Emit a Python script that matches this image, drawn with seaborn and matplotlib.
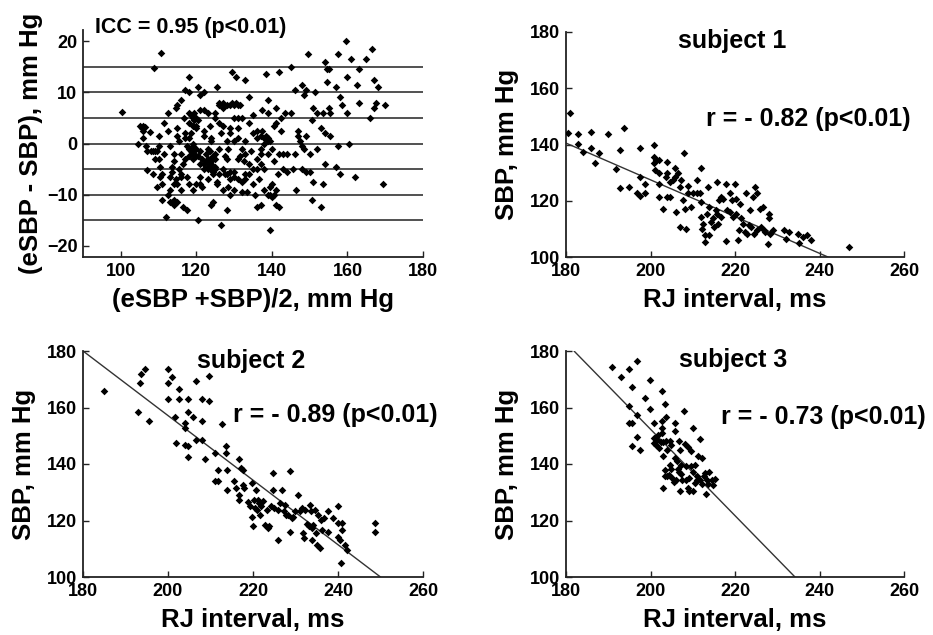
import numpy as np
import pandas as pd
import matplotlib
matplotlib.use("Agg")
import matplotlib.pyplot as plt
import seaborn as sns

# ---------------- data ----------------
# Bland-Altman panel: mean (x) and difference (y)
ba_mean = [100.3, 104.5, 105, 105.5, 106, 105.8, 106.5,
           106.6, 107, 107.8, 108.5, 109, 109.5, 108.5, 109.5, 110, 110, 110.5, 110.2, 108.7, 110.6, 110.8, 111, 111.5, 111.5,
           112, 112.5, 112.5, 113, 113, 113.5, 114, 113.5, 113, 113.5, 114, 114.5, 114.5, 115, 115, 115.5, 115, 115.5, 116, 116, 116.5, 116, 116.5, 116.8, 117, 117, 117, 117.5, 117.5,
           118, 118, 118, 118, 118, 118, 118.5, 119, 119, 119, 119, 119.5, 119.5, 120, 120, 120, 120.5, 120.5, 121, 121, 121, 121.5, 121.5, 122, 122, 122, 122, 122.5,
           123, 123, 123, 123, 123.5, 123.5, 124, 124, 124, 124, 124.5, 124.5, 124.5, 125, 125, 125, 125, 125.5, 125.5, 126, 126, 126, 126.5, 126.5, 127, 127, 127, 127,
           128, 128, 128, 128, 128.5, 128.5, 129, 129, 129, 129.5, 129.5, 130, 130, 130, 130, 130.5, 130.5, 131, 131, 131, 131.5, 131.5, 132, 132, 132, 132.5,
           133, 133, 133, 133.5, 134, 134, 134, 134.5, 135, 135, 135, 135.5, 136, 136, 136, 136.5, 137, 137, 137, 137.5, 137.5, 138, 138, 138,
           138.5, 139, 139, 139, 139, 139.5, 139.5, 140, 140, 140, 140.5, 140.5, 141, 141, 141, 141.5, 142, 142, 142, 142.5, 142.5,
           143, 143, 143.5, 144, 144, 145, 145, 145.5, 146, 146, 146.5, 147, 147, 147.5, 148, 148,
           148, 148.5, 148.5, 149, 149, 149, 149.5, 150, 150, 150.5, 150.5, 151, 151, 151.5, 152, 152,
           153, 153, 153.5, 153.5, 154, 154, 154, 154.5, 154.5, 155, 155, 155.5, 155.5, 157, 157, 157.5, 157.5, 158, 158, 158.5,
           159.5, 160, 160, 160.5, 161, 162, 162.5, 163, 163, 165, 166, 166.5, 167, 167, 167.5, 168, 170, 169.5,
           114, 115, 116, 117, 118.5, 119, 120, 120.5, 121, 122, 123, 123.5, 124, 125, 126, 127.5, 129, 131, 133, 135, 137, 139,
           118.5, 119.5, 120, 120.5, 119, 119.5, 120, 118, 121, 117.5,
           123, 123.5, 124, 124.5, 125, 122, 122.5,
           113, 114, 115, 114, 112.5, 116,
           131, 133, 134, 136, 138, 138.5, 139.5, 137, 136, 132, 130, 128,
           139, 140.5, 141, 139.5,
           108, 109, 110.5, 111, 107, 106,
           126, 127, 129, 130, 131, 127.5, 129, 125.5, 121, 119, 118]
ba_diff = [6.2, 0, 3.5, 3, 3.5, 2.5, 3.2,
           -0.5, -5.2, 2.3, -1.5, -1.5, -1.5, -6, -8.5, -3, -0.5, -4.5, 1.5, 14.7, 17.7, -11, -6, 4, -2,
           -14.3, 6, 2.5, -9, -11.5, -11.5, -12, -5.5, -0.5, -4.5, -2, -7, 7, 7.5, 3, -5, -8, 0.5, 8.5, -2, -12.5, -9, -4, 5, 10.5, 1, -3, -6.5, -13,
           13, 10, 6, 4, 1, -1, -1.5, -2, 0, 3.5, 5, 4.5, -1, 5, -1, -8, -15, 11, -4, 6.5, 9.5, -3, -8.5, 6.5, 10, 1.5, -5, -3.5,
           6, -1, -3, -4.5, -4, 3.5, -12, -3.5, -5, 1, -11.5, -6, -2.5, -3, -5, 5, 6, -8, 11, -6, -1, 4, -16, 2, -5, -9, 3.5, 7,
           -13, 7.5, -6, 0.5, -8.5, -1, -10, -5.5, 2, 14, 8, -5.5, 0.5, 5, -9, 13, 8, -3, -7, 3, -2.5, 7.5, -9.5, 5, -1, -3.5,
           12.5, -2, -7, -9.5, 9, 4, -4, -1.5, -5, -8, 5.5, -10, -12.5, 1, -3, -7, -12, 1.5, -1, 2.5, 6.5, -9, 1, -5,
           13.5, 8.5, 6, 1, -2, -10, -17, -10.5, -8, -1, 3.5, -3.5, 7, 4, -12, -6, 14, -12.5, -2, 5, 2.5,
           -2, -5, 6, -5.5, -2, 15, 6, -5, 10.5, -2, -9, 1.5, 2.5, 0.5, -5, -0.5,
           11.5, 9.5, -1, 10.5, 1.5, -5.5, 17.5, -5.5, -2, -11, 4.5, -7.5, 7, 10, 6, -1,
           -12.5, 3, 6, -8, 16, 2, -4, 14.5, 12, 7, 14.5, 1.5, 6, 11, -4.5, 17.5, -0.5, -6, 9, 7.5,
           20, 13, 6, 0, 16.5, -6.5, 11.5, 14.5, 8, 16.5, 5, 18.5, 12.5, 7, 8, 11, 7.5, -8,
           -3.5, 1.5, -6.5, 2, 2, -3, 3, -2.5, -6.5, 2.5, -7, -1.5, 0.5, -2, 8, -2.5, 3, 1, -6, 2, -4, 0.5,
           5.5, 6, 3.5, 4.5, -0.5, -2, -2.5, -2.5, -1.5, -0.5,
           -5, -3, -4, -5.5, -4.5, -4, -2,
           -6.5, -8, -11.5, -11, -10, -6,
           5, 0.5, -6, -5, 0, 1.5, 0.5, -2, 2.5, -7.5, -6.5, -3,
           -10, -10, -9, -8.5,
           -1.5, -3, -6.5, -8, -1.5, 1,
           7.5, 8, 7.5, 7.5, 7.5, -6, -7, -7.5, -8, -9, -8]
ba_lines = [-15, -10, -5, 0, 5, 10, 15]
icc_text = "ICC = 0.95 (p<0.01)"

# subject 1
s1_rj = [180.4, 181, 182.8, 182.8, 184, 186, 186, 186.8, 187.9, 189.9, 191.8, 192.8, 192.8, 193.8, 195, 197.4, 197.6, 196.8, 197.6, 198.8, 198.8,
         200.8, 200.8, 200.8, 201, 201.3, 202.1, 202.1, 202, 202, 202.9, 203.7, 203.9, 204, 203.9, 204.5, 204.6, 205.3, 205.7, 205.7, 206, 206.5,
         206.9, 206.9, 207.3, 207.7, 207.9, 208.1, 208.5, 208.8, 208.9, 209.7, 210.1, 210.9, 211, 211.6, 212, 212, 212, 212.2, 212.5, 212.8, 213,
         213.3, 213.5, 213.8, 213.9, 214.3, 214.9, 215.1, 215.4, 215.7, 215.7, 215.9, 216.3, 216.7, 216.8, 217.1, 217.8, 217.9, 218.1, 218.7, 218.9,
         219.4, 219.5, 219.9, 220.2, 220.3, 220.7, 221, 221.3, 221.5, 221.9, 222.3, 222.7, 222.8, 223.3, 223.6, 223.9, 224.3, 224.4, 224.8, 225.1,
         225.2, 225.8, 226.2, 226.6, 226.9, 227.2, 227.8, 228, 228, 228.4, 229, 231.7, 232, 232.8, 234.9, 235.1, 236.2, 237, 238, 247]
s1_sbp = [144.2, 151.1, 143.6, 140.2, 137.4, 144.6, 138.6, 133.3, 136.8, 143.6, 131.2, 138, 124.6, 145.8, 124.9, 128.5, 138.6, 122.6, 121.6, 122.8, 126.1,
          139.8, 135.6, 133.3, 130.9, 134.5, 134.5, 129.7, 126.1, 121.4, 117.2, 128.5, 133.9, 129.7, 121.4, 126.7, 121.4, 127.3, 131.5, 128.5, 116, 129.7,
          110.7, 125, 127.3, 120.2, 136.8, 117.2, 110.1, 125.4, 122.6, 117.8, 122.6, 122.6, 127.3, 122.6, 119.6, 131.5, 114.2, 110.1, 111.9, 107.7, 105.4,
          115.4, 124.9, 107.7, 117.8, 112.5, 113.7, 110.7, 116.6, 126.7, 115.4, 111.9, 120.2, 114.2, 121.4, 120.8, 105.6, 126.1, 116.6, 116, 122.6,
          120.2, 114.2, 126.1, 115.4, 120.8, 105.9, 109.5, 119, 113.7, 111.9, 108.9, 122.6, 108.3, 111.3, 116.6, 110.7, 121.4, 108.3, 124.9, 122.6,
          109.5, 117.2, 110.7, 117.8, 109.5, 108.9, 104.7, 115.4, 113.7, 108.3, 109.5, 109.5, 106.5, 108.9, 108.3, 105, 107.1, 107.7, 106.2, 103.6]
s1_fit_x = [180, 242]
s1_fit_y = [140.5, 100]

# subject 2
s2_rj = [185, 193, 193.4, 193.6, 194.6, 195.5, 199.9, 199.9, 199.9, 200.9, 201.7, 201.9, 202.7, 202.7, 203.9, 203.9, 203.9, 204.7, 204.7, 204.7, 204.7,
         205.8, 206.7, 206.7, 207.9, 207.9, 207.9, 208.7, 209.7, 209.7, 211, 211, 211.8, 211.8, 212.8, 213.6, 213.6, 213.8, 213.8, 215.6, 216, 216.8,
         216.8, 216.8, 217.1, 217.6, 217.6, 217.9, 218.9, 219.4, 219.7, 219.7, 219.9, 220.2, 220.5, 220.7, 221, 221.2, 221.4, 221.6, 222, 222.4, 222.8,
         223.2, 223.6, 223.8, 224.2, 224.6, 224.6, 225, 226, 226, 226.4, 226.8, 227.2, 227.6, 227.8, 228.3, 228.7, 228.7, 229.1, 229.5, 229.9, 230.7,
         231.1, 231.5, 231.7, 231.9, 232.3, 232.7, 233.1, 233.4, 233.6, 233.8, 234, 234.2, 234.6, 234.8, 235, 235.4, 235.8, 236, 236.2, 236.7, 237.7,
         237.7, 238.9, 239.9, 239.9, 240.1, 240.5, 240.7, 240.9, 240.9, 241.7, 242.1, 248.8, 248.8]
s2_sbp = [166, 158.3, 168.5, 172, 173.8, 155.1, 173.8, 168.5, 163.1, 170.7, 156.6, 147.5, 166.6, 163.1, 154.6, 152.8, 146.9, 163.1, 158.3, 146.3, 142.4,
          156.6, 169.3, 148.6, 163.1, 155.1, 148.6, 141.6, 171.1, 162.2, 143.9, 133.9, 133.9, 138, 154.2, 146.3, 143.9, 138, 130.9, 133.9, 131.5, 141.8,
          129.1, 127.3, 138.6, 138, 132.7, 131.5, 126.7, 125, 133.3, 121.4, 118.2, 127.3, 124.4, 130.9, 123.8, 127.3, 126.1, 122, 125, 126.8, 118.5,
          123.8, 117.3, 117.9, 125, 136.8, 130.9, 124.4, 113.1, 123.8, 126.1, 130.9, 123.2, 125.6, 122, 122, 137.4, 116.1, 120.8, 121.4, 123.2, 129.1,
          123.2, 124.4, 115.5, 113.7, 123.8, 118.7, 117.9, 125.6, 123.4, 117.3, 113.1, 118.5, 123.8, 115.5, 111.4, 122, 110.2, 120.2, 116.7, 120.8, 123.2,
          116.1, 120.8, 125, 114.3, 119.1, 113.1, 104.9, 119.1, 116.7, 111.4, 109.6, 119.1, 116.1]
s2_fit_x = [180, 250]
s2_fit_y = [180, 100]

# subject 3
s3_rj = [190.8, 192.9, 194.9, 196.8, 195.6, 194.9, 194.9, 195.6, 195.6, 196.8, 196.8, 197.6, 198.8, 199.9, 199.9, 200.8, 200.8, 200.8, 201.3, 201.7,
         202.1, 202.4, 202.7, 202.7, 202.7, 202.7, 202.9, 202.9, 203.5, 203.7, 203.7, 203.5, 203.5, 204, 204, 204.5, 204.6, 204.9, 204.9, 205.1, 205.7,
         205.7, 205.7, 206.1, 206.5, 206.7, 206.7, 206.9, 206.9, 207.3, 207.5, 207.9, 208.1, 208.3, 208.5, 208.8, 208.9, 209.2, 209.5, 209.7, 210,
         210.1, 210.1, 210.5, 210.9, 211.1, 211.3, 211.7, 211.7, 212.1, 212.1, 212.6, 213.1, 213.3, 213.7, 213.9, 214.5, 215.3, 214.9,
         201.5, 203, 204.3, 205.5, 206.3, 207.2, 209, 210.6, 212.8]
s3_sbp = [174.4, 170.8, 173.7, 176.4, 167.3, 160.4, 154.6, 154.6, 146.5, 157.2, 149.6, 145.1, 163.3, 169.9, 159.3, 154.6, 149.3, 147.5, 146.9, 150.2,
          145.5, 147.8, 165.7, 155.1, 152.8, 151, 142.7, 131.5, 161.1, 156.6, 148.3, 137.7, 135.9, 145.1, 135.6, 148.1, 139.8, 146.9, 138.3, 135.1, 154.6,
          151.6, 142.1, 134.2, 138.3, 137.1, 148.3, 145.1, 130.4, 139.8, 134.2, 158.7, 147.2, 139.2, 134.2, 146, 131.5, 130.4, 144.5, 139.2, 152.8,
          137.1, 130.4, 139.8, 135.9, 134.2, 142.7, 148.9, 134.2, 142.1, 133, 135.9, 129.5, 134.2, 133, 137.1, 134.4, 134.8, 132.4,
          148.5, 147.8, 136.2, 133.6, 141, 136.5, 135.2, 133.2, 136.8]
s3_fit_x = [181.9, 234.2]
s3_fit_y = [180, 100]

subject_titles = ["subject 1", "subject 2", "subject 3"]
r_texts = ["r = - 0.82 (p<0.01)", "r = - 0.89 (p<0.01)", "r = - 0.73 (p<0.01)"]

# ---------------- style ----------------
sns.set_theme(style="ticks")
plt.rcParams['font.family'] = ['Liberation Sans', 'DejaVu Sans']
plt.rcParams['font.weight'] = 'bold'
plt.rcParams['axes.labelweight'] = 'bold'
plt.rcParams['text.color'] = 'black'
plt.rcParams['axes.labelcolor'] = 'black'
plt.rcParams['xtick.direction'] = 'in'
plt.rcParams['ytick.direction'] = 'in'

W, H = 933, 635
fig = plt.figure(figsize=(W / 100, H / 100), dpi=100)
fig.patch.set_facecolor('white')

def px_axes(left, top, right, bottom):
    return fig.add_axes([left / W, 1 - bottom / H, (right - left) / W, (bottom - top) / H])

ax0 = px_axes(83, 30, 423, 257)
ax1 = px_axes(566, 32, 904, 257)
ax2 = px_axes(83, 351, 423, 577)
ax3 = px_axes(566, 351, 904, 577)

TICK_FS = 13
LABEL_FS = 18.5
TEXT_FS = 18
MS = 15

def style(ax):
    for s in ['top', 'right']:
        ax.spines[s].set_visible(False)
    for s in ['left', 'bottom']:
        ax.spines[s].set_color('#222222')
        ax.spines[s].set_linewidth(1.3)
    ax.tick_params(axis='both', which='major', length=4, width=1.0, color='#222222',
                   labelsize=TICK_FS, labelcolor='black', pad=4)
    for lab in ax.get_xticklabels() + ax.get_yticklabels():
        lab.set_fontweight('bold')
    ax.set_facecolor('white')

# Panel 1 : Bland-Altman
df0 = pd.DataFrame({'mean': ba_mean, 'diff': ba_diff})
for yl in ba_lines:
    ax0.axhline(yl, color='#222222', lw=1.1, zorder=1)
sns.scatterplot(data=df0, x='mean', y='diff', ax=ax0, marker='D', color='black',
                s=MS, linewidth=0, zorder=3)
ax0.set_xlim(90, 180)
ax0.set_ylim(-22.2, 22.2)
ax0.set_xticks([100, 120, 140, 160, 180])
ax0.set_yticks([-20, -10, 0, 10, 20])
ax0.set_xlabel("(eSBP +SBP)/2, mm Hg", fontsize=LABEL_FS, labelpad=6)
ax0.set_ylabel("(eSBP - SBP), mm Hg", fontsize=LABEL_FS, labelpad=3)
ax0.text(0.035, 1.01, icc_text, transform=ax0.transAxes, fontsize=15.5,
         fontweight='bold', ha='left', va='center')
style(ax0)

# Subject panels
subjects = [
    (ax1, s1_rj, s1_sbp, s1_fit_x, s1_fit_y, (219.3, 176.8), (213.1, 149.1)),
    (ax2, s2_rj, s2_sbp, s2_fit_x, s2_fit_y, (219.5, 176.5), (215.3, 157.3)),
    (ax3, s3_rj, s3_sbp, s3_fit_x, s3_fit_y, (219.5, 176.8), (216.7, 156.6)),
]
for i, (ax, rj, sbp, fx, fy, tpos, rpos) in enumerate(subjects):
    d = pd.DataFrame({'rj': rj, 'sbp': sbp})
    fit = pd.DataFrame({'rj': fx, 'sbp': fy})
    sns.lineplot(data=fit, x='rj', y='sbp', ax=ax, color='#333333', lw=1.0, zorder=2)
    sns.scatterplot(data=d, x='rj', y='sbp', ax=ax, marker='D', color='black',
                    s=MS, linewidth=0, zorder=3)
    ax.set_xlim(180, 260)
    ax.set_ylim(100, 180)
    ax.set_xticks([180, 200, 220, 240, 260])
    ax.set_yticks([100, 120, 140, 160, 180])
    ax.set_xlabel("RJ interval, ms", fontsize=LABEL_FS, labelpad=6)
    ax.set_ylabel("SBP, mm Hg", fontsize=LABEL_FS, labelpad=8)
    ax.text(tpos[0], tpos[1], subject_titles[i], fontsize=TEXT_FS, fontweight='bold',
            ha='center', va='center')
    ax.text(rpos[0], rpos[1], r_texts[i], fontsize=TEXT_FS, fontweight='bold',
            ha='left', va='center', clip_on=False)
    style(ax)

fig.savefig("out.png", dpi=100, facecolor='white')
